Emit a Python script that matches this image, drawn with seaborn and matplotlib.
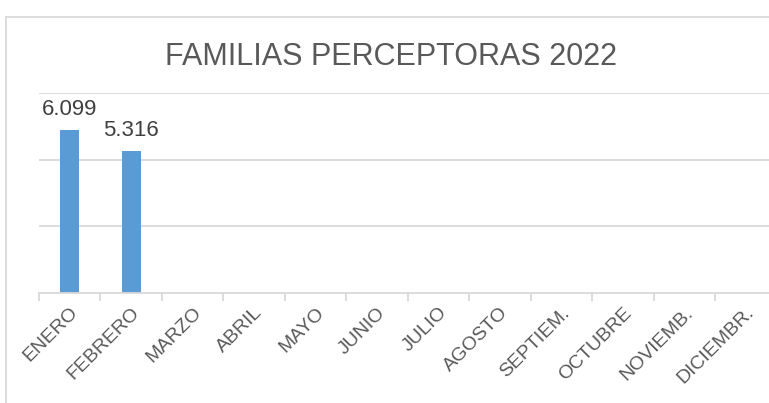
import numpy as np
import pandas as pd
import matplotlib
matplotlib.use("Agg")
import matplotlib.pyplot as plt
import matplotlib.patches as patches
import seaborn as sns

# Datos
meses = ['ENERO', 'FEBRERO', 'MARZO', 'ABRIL', 'MAYO', 'JUNIO', 'JULIO',
         'AGOSTO', 'SEPTIEM.', 'OCTUBRE', 'NOVIEMB.', 'DICIEMBR.']
familias = [6099, 5316, None, None, None, None, None, None, None, None, None, None]

df = pd.DataFrame({'mes': meses, 'familias': familias}).dropna()

sns.set_theme(style="white")
plt.rcParams['font.family'] = ['Liberation Sans', 'DejaVu Sans']

gris = '#595959'
fig = plt.figure(figsize=(7.69, 4.03), dpi=100)
ax = fig.add_axes([39 / 769, 110 / 403, 737.5 / 769, 200 / 403])

sns.barplot(data=df, x='mes', y='familias', order=meses, color='#5B9BD5',
            saturation=1, width=0.31, linewidth=0, ax=ax)

ax.set_ylim(0, 7500)
ax.set_xlim(-0.5, len(meses) - 0.5)
ax.set_yticks([2500, 5000, 7500])
ax.set_yticklabels([])
ax.tick_params(axis='y', length=0)
ax.yaxis.grid(True, color='#d9d9d9', linewidth=1.3)
ax.set_axisbelow(True)
for s in ['left', 'right', 'top']:
    ax.spines[s].set_visible(False)
ax.spines['bottom'].set_color('#d9d9d9')
ax.spines['bottom'].set_linewidth(1.3)

ax.set_xlabel('')
ax.set_ylabel('')
ax.set_xticks(range(len(meses)))
ax.set_xticklabels(meses, rotation=45, ha='right', rotation_mode='anchor',
                   color=gris, fontsize=14)
ax.tick_params(axis='x', which='major', length=0, pad=8)
ax.set_xticks(np.arange(-0.5, len(meses)), minor=True)
ax.tick_params(axis='x', which='minor', length=6, width=1.3, color='#d9d9d9',
               bottom=True)

for i, v in enumerate(familias):
    if v is not None:
        ax.text(i, v + 380, f"{v:,.0f}".replace(",", "."), ha='center',
                va='bottom', fontsize=16, color='#404040')

fig.text(391 / 769, 1 - 57 / 403, 'FAMILIAS PERCEPTORAS 2022', ha='center',
         va='center', fontsize=22, color=gris)

# borde del grafico
fig.add_artist(patches.Rectangle((6 / 769, -0.1), 1.0, 1 - 17 / 403 + 0.1,
                                 transform=fig.transFigure, fill=False,
                                 edgecolor='#d9d9d9', linewidth=1.3))

fig.savefig('out.png', dpi=100)
